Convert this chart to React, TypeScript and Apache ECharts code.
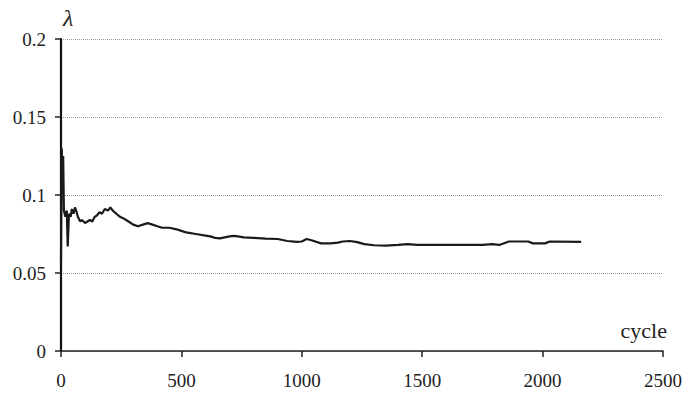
import React, { useEffect, useRef } from "react";
import * as echarts from "echarts";

const cycles = [
  0, 3, 6, 9, 12, 18, 24, 28, 33, 40, 45, 52, 58, 65, 70, 80, 87, 100, 110, 120, 130, 140, 150, 160, 170, 182, 195, 205, 215,
  230, 245, 260, 280, 300, 320, 340, 360, 380, 400, 420, 450, 480, 500, 520, 560, 600, 620, 640, 660, 680, 700, 720, 740,
  760, 800, 850, 900, 940, 980, 1000, 1020, 1040, 1080, 1120, 1150, 1170, 1200, 1230, 1260, 1300, 1350, 1400, 1440, 1480,
  1550, 1650, 1750, 1790, 1820, 1860, 1940, 1960, 2010, 2030, 2160,
];
const lambda = [
  0.057, 0.13, 0.115, 0.125, 0.09, 0.086, 0.09, 0.067, 0.088, 0.086, 0.091, 0.088, 0.092, 0.089, 0.086, 0.083, 0.084, 0.082,
  0.083, 0.084, 0.083, 0.086, 0.087, 0.089, 0.088, 0.091, 0.09, 0.092, 0.09, 0.088, 0.086, 0.085, 0.083, 0.081, 0.08, 0.081,
  0.082, 0.081, 0.08, 0.079, 0.079, 0.078, 0.077, 0.076, 0.075, 0.074, 0.0735, 0.0725, 0.0722, 0.0728, 0.0735, 0.0738,
  0.0733, 0.0728, 0.0725, 0.072, 0.0718, 0.0705, 0.07, 0.0702, 0.0718, 0.071, 0.069, 0.069, 0.0695, 0.0702, 0.0705, 0.0698,
  0.0685, 0.0678, 0.0675, 0.068, 0.0685, 0.068, 0.068, 0.068, 0.068, 0.0685, 0.068, 0.0702, 0.0702, 0.069, 0.069, 0.0702,
  0.07,
];
const xTicks = [0, 500, 1000, 1500, 2000, 2500];
const yTicks = [0, 0.05, 0.1, 0.15, 0.2];

const FONT = "'Liberation Serif', 'Times New Roman', serif";

export default function App() {
  const ref = useRef<HTMLDivElement>(null);
  useEffect(() => {
    if (!ref.current) return;
    const chart = echarts.init(ref.current, null, { renderer: "svg" });
    const data = cycles.map((c, i) => [c, lambda[i]]);
    chart.setOption({
      animation: false,
      backgroundColor: "#ffffff",
      grid: { left: 61, right: 20, top: 39, bottom: 50 },
      xAxis: {
        type: "value",
        min: xTicks[0],
        max: xTicks[xTicks.length - 1],
        interval: 500,
        axisLine: { show: true, lineStyle: { color: "#222", width: 1.5 } },
        axisTick: { show: true, length: 6, lineStyle: { color: "#222", width: 1.5 } },
        axisLabel: {
          color: "#222",
          fontFamily: FONT,
          fontSize: 19,
          margin: 20,
          formatter: (v: number) => String(v),
        },
        splitLine: { show: false },
      },
      yAxis: {
        type: "value",
        min: yTicks[0],
        max: yTicks[yTicks.length - 1],
        interval: 0.05,
        axisLine: { show: true, lineStyle: { color: "#111", width: 2.2 } },
        axisTick: { show: true, length: 6, lineStyle: { color: "#222", width: 1.5 } },
        axisLabel: {
          color: "#222",
          fontFamily: FONT,
          fontSize: 19,
          margin: 15,
          formatter: (v: number) => String(v),
        },
        splitLine: { show: true, lineStyle: { color: "#999", type: "dotted", width: 1 } },
      },
      series: [
        {
          type: "line",
          data,
          showSymbol: false,
          lineStyle: { color: "#1a1a1a", width: 2.2 },
          z: 3,
        },
      ],
      graphic: [
        {
          type: "text",
          left: 63,
          top: 6,
          style: { text: "λ", fontFamily: FONT, fontStyle: "italic", fontSize: 24, fill: "#222" },
        },
        {
          type: "text",
          right: 18,
          top: 319,
          style: { text: "cycle", fontFamily: FONT, fontSize: 22, fill: "#222" },
        },
      ],
    });
    return () => chart.dispose();
  }, []);
  return (
    <div
      ref={ref}
      style={{ position: "fixed", left: 0, top: 0, width: 685, height: 401, background: "#fff" }}
    />
  );
}
